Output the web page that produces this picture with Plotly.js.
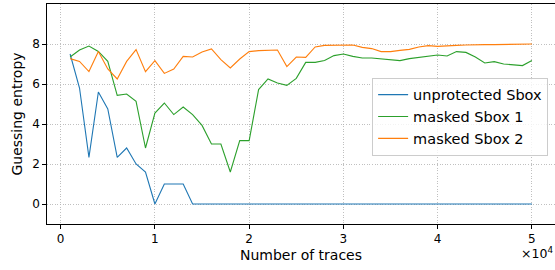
<!DOCTYPE html>
<html><head><meta charset="utf-8">
<script src="https://cdn.plot.ly/plotly-3.0.1.min.js"></script>
<style>html,body{margin:0;padding:0;background:#fff}</style>
</head><body><div id="chart" style="width:555px;height:270px"></div>
<script>
const traces = [];
for (let i = 1; i <= 50; i++) traces.push(i * 1000);
const unprotected = [7.5,5.8,2.33,5.6,4.75,2.33,2.8,2.0,1.6,0,1.0,1.0,1.0,0,0,0,0,0,0,0,0,0,0,0,0,0,0,0,0,0,0,0,0,0,0,0,0,0,0,0,0,0,0,0,0,0,0,0,0,0];
const masked1 = [7.35,7.7,7.9,7.63,7.13,5.43,5.5,5.13,2.8,4.55,5.05,4.47,4.85,4.47,3.93,3.0,3.0,1.6,3.17,3.17,5.72,6.25,6.05,5.93,6.28,7.08,7.08,7.17,7.42,7.5,7.38,7.3,7.3,7.25,7.2,7.17,7.27,7.33,7.37,7.45,7.4,7.62,7.58,7.35,7.05,7.12,7.0,6.97,6.92,7.17];
const masked2 = [7.27,7.13,6.62,7.63,6.75,6.25,7.13,7.72,6.62,7.17,6.53,6.75,7.38,7.35,7.6,7.75,7.22,6.8,7.25,7.62,7.67,7.68,7.7,6.87,7.35,7.33,7.85,7.93,7.93,7.93,7.95,7.83,7.77,7.62,7.62,7.68,7.73,7.85,7.92,7.88,7.92,7.93,7.95,7.97,7.97,7.97,7.98,8.0,8.0,8.0];
const seriesNames = ['unprotected Sbox','masked Sbox 1','masked Sbox 2'];
const xTickVals = [0,10000,20000,30000,40000,50000];
const xTickText = ['0','1','2','3','4','5'];
const yTickVals = [0,2,4,6,8];

const colors = ['#1f77b4','#2ca02c','#ff7f0e'];
const data = [unprotected, masked1, masked2].map((ys, i) => ({
  x: traces, y: ys, type: 'scatter', mode: 'lines', name: seriesNames[i],
  line: {color: colors[i], width: 1.1}
}));

const font = 'DejaVu Sans, sans-serif';
const grid = {showgrid: true, gridcolor: '#b0b0b0', griddash: '1px,1.6px', gridwidth: 0.8};
const layout = {
  width: 555, height: 270,
  margin: {l: 47, r: 0, t: 4, b: 46},
  paper_bgcolor: '#fff', plot_bgcolor: '#fff',
  font: {family: font, color: '#000', size: 12},
  showlegend: true,
  legend: {x: 0.64, y: 0.665, xanchor: 'left', yanchor: 'top',
    bgcolor: 'rgba(255,255,255,0.8)', bordercolor: '#cccccc', borderwidth: 1,
    font: {family: font, size: 14.5}},
  xaxis: Object.assign({range: [-1450, 52450], tickvals: xTickVals, ticktext: xTickText,
    zeroline: false, showline: true, linecolor: '#000', linewidth: 1.2, mirror: true,
    ticks: 'outside', ticklen: 3.5, tickcolor: '#000',
    tickfont: {family: font, size: 12},
    title: {text: 'Number of traces', font: {family: font, size: 14}, standoff: 5}}, grid),
  yaxis: Object.assign({range: [-1, 10], tickvals: yTickVals,
    zeroline: false, showline: true, linecolor: '#000', linewidth: 1.2,
    ticks: 'outside', ticklen: 3.5, tickcolor: '#000',
    tickfont: {family: font, size: 12},
    title: {text: 'Guessing entropy', font: {family: font, size: 14}, standoff: 6}}, grid),
  annotations: [{text: '×10<sup>4</sup>', xref: 'paper', yref: 'paper', x: 1, y: -0.085,
    xanchor: 'right', yanchor: 'top', showarrow: false, font: {family: font, size: 12.5}}]
};
Plotly.newPlot('chart', data, layout, {displayModeBar: false, staticPlot: true});
</script></body></html>
